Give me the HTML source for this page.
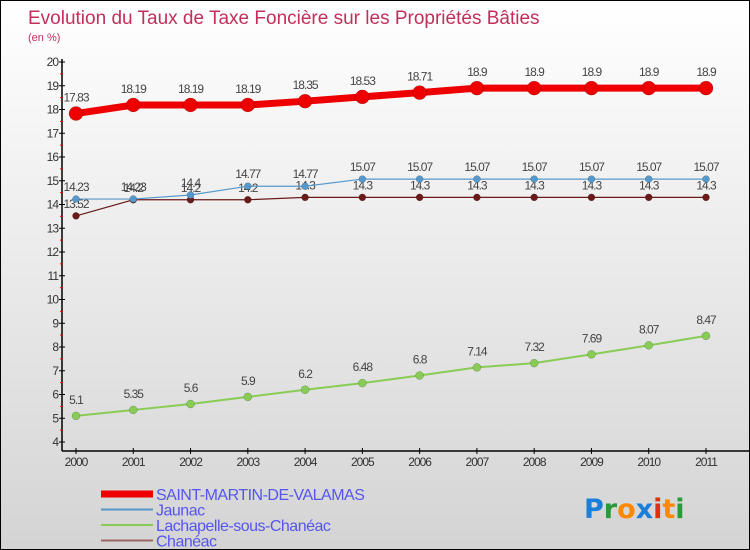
<!DOCTYPE html>
<html><head><meta charset="utf-8"><style>
body{margin:0}
#c{width:750px;height:550px;position:relative;overflow:hidden;box-sizing:border-box;border:1px solid #000;background:linear-gradient(#fff,#d4d4d4);font-family:"Liberation Sans","DejaVu Sans",sans-serif}
</style></head><body>
<div id="c">
<svg id="s" width="750" height="550" style="position:absolute;left:0;top:0"></svg>
</div>
<script>
const years=[2000,2001,2002,2003,2004,2005,2006,2007,2008,2009,2010,2011];
const stMartin=[17.83,18.19,18.19,18.19,18.35,18.53,18.71,18.9,18.9,18.9,18.9,18.9];
const jaunac=[14.23,14.23,14.4,14.77,14.77,15.07,15.07,15.07,15.07,15.07,15.07,15.07];
const lachapelle=[5.1,5.35,5.6,5.9,6.2,6.48,6.8,7.14,7.32,7.69,8.07,8.47];
const chaneac=[13.52,14.2,14.2,14.2,14.3,14.3,14.3,14.3,14.3,14.3,14.3,14.3];
const yTicks=[4,5,6,7,8,9,10,11,12,13,14,15,16,17,18,19,20];
const seriesNames=["SAINT-MARTIN-DE-VALAMAS","Jaunac","Lachapelle-sous-Chanéac","Chanéac"];

const NS="http://www.w3.org/2000/svg";
const s=document.getElementById('s');
function el(t,a,p){const e=document.createElementNS(NS,t);for(const k in a)e.setAttribute(k,a[k]);(p||s).appendChild(e);return e;}
const X=i=>75+i*(630/(years.length-1));
const Y=v=>441-(v-4)*(380/16);

let t=el('text',{x:27,y:23,fill:'#c0305a','font-size':19});t.textContent='Evolution du Taux de Taxe Foncière sur les Propriétés Bâties';

t=el('text',{x:27,y:40,fill:'#c0305a','font-size':11});t.textContent='(en %)';


// axes
let a=el('line',{x1:61,y1:58,x2:61,y2:450,stroke:'#000','stroke-width':1.5});

a=el('line',{x1:61,y1:450,x2:750,y2:450,stroke:'#000','stroke-width':1.5});

yTicks.forEach((v,i)=>{
  el('line',{x1:58,x2:64,y1:Y(v),y2:Y(v),stroke:'#000'});
  if(i<yTicks.length-1)el('line',{x1:59,x2:62,y1:Y(v+0.5),y2:Y(v+0.5),stroke:'#e00'});
  const tx=el('text',{x:57,y:Y(v)+4,'text-anchor':'end','font-size':12,fill:'#333','letter-spacing':'-1'});tx.textContent=v;
  
});
years.forEach((yr,i)=>{
  el('line',{x1:X(i),x2:X(i),y1:447,y2:453,stroke:'#000'});
  const tx=el('text',{x:X(i),y:465,'text-anchor':'middle','font-size':12,fill:'#333','letter-spacing':'-1'});tx.textContent=yr;
  
});

function series(data,color,w,r,name,labelDy){
  const g=el('g',{});
  
  el('polyline',{points:data.map((v,i)=>X(i)+','+Y(v)).join(' '),fill:'none',stroke:color,'stroke-width':w},g);
  data.forEach((v,i)=>{
    const c=el('circle',{cx:X(i),cy:Y(v),r:r,fill:color,stroke:'rgba(0,0,0,0.3)','stroke-width':0.5},g);
    
    const tx=el('text',{x:X(i),y:Y(v)+labelDy,'text-anchor':'middle','font-size':12,fill:'#444','letter-spacing':'-1'},g);tx.textContent=v;
    
  });
}
series(lachapelle,'#88cc55',2,4,'lachapelle',-12);
series(chaneac,'#6b1a1a',1.2,3.5,'chaneac',-8);
series(jaunac,'#5599cc',1.2,3.5,'jaunac',-8);
series(stMartin,'#ee0000',7,7,'saint-martin',-12);

// legend
const lc=['#ee0000','#5599cc','#88cc55','#996666'],lw=[7,2,2,2];
seriesNames.forEach((n,i)=>{
  const y=493+i*15.5;
  const l=el('line',{x1:100,x2:152,y1:y,y2:y,stroke:lc[i],'stroke-width':lw[i]});
  
  const tx=el('text',{x:155,y:y+6,'font-size':16,fill:'#5555ee','letter-spacing':'-0.5'});tx.textContent=n;
  
});
// logo
const logo=el('text',{x:583,y:517,'font-size':27,'font-weight':'bold','font-family':'DejaVu Sans, sans-serif'});

[['P','#1a7fd8'],['r','#2a9a3a'],['o','#ff8800'],['x','#1a7fd8'],['i','#e03010'],['t','#ff8800'],['i','#2a9a3a']].forEach(([ch,c])=>{
  const sp=el('tspan',{fill:c},logo);sp.textContent=ch;
});
</script>
</body></html>
